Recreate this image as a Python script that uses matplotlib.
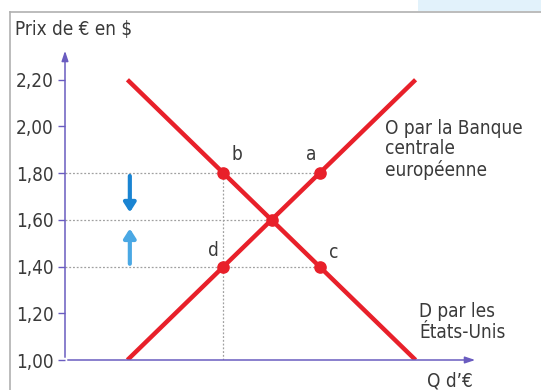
import matplotlib.pyplot as plt
from matplotlib.patches import Rectangle
from matplotlib.lines import Line2D

plt.rcParams["font.family"] = "DejaVu Sans"
plt.rcParams["font.stretch"] = "condensed"

# price ticks
prices = [1.00, 1.20, 1.40, 1.60, 1.80, 2.00, 2.20]
price_labels = ["1,00", "1,20", "1,40", "1,60", "1,80", "2,00", "2,20"]

# curves (quantity, price)
offre_q = [1.3, 7.3]
offre_p = [1.0, 2.2]
demande_q = [1.3, 7.3]
demande_p = [2.2, 1.0]

# named points
pts_name = ["b", "a", "d", "c", "e"]
pts_q = [3.3, 5.3, 3.3, 5.3, 4.3]
pts_p = [1.80, 1.80, 1.40, 1.40, 1.60]

RED = "#e8202a"
AXC = "#6a5cc0"
TXT = "#3a3a3a"
GRID = "#a0a0a0"
FS = 13.6

fig = plt.figure(figsize=(5.41, 3.90), dpi=100)
W, H = 541, 390

# frame of the page
fig.add_artist(Line2D([10 / W, 1], [1 - 12 / H, 1 - 12 / H], color="#b0b0b0", lw=1.2))
fig.add_artist(Line2D([10 / W, 10 / W], [0, 1 - 12 / H], color="#b0b0b0", lw=1.2))
fig.add_artist(Rectangle((418 / W, 1 - 11 / H), 123 / W, 11 / H, color="#e2f2fb", lw=0))

x0, x1 = 65, 478
y0, y1 = 360, 48
ax = fig.add_axes([x0 / W, 1 - y0 / H, (x1 - x0) / W, (y0 - y1) / H])
ax.set_xlim(0, 8.6)
ax.set_ylim(1.0, 2.336)
for s in ax.spines.values():
    s.set_visible(False)
ax.set_xticks([])
ax.set_yticks(prices)
ax.set_yticklabels(price_labels, fontsize=FS, color=TXT)
ax.tick_params(axis="y", length=5, width=1, color=AXC, pad=3)

# axes with arrows
ax.annotate("", xy=(0, 2.336), xytext=(0, 1.0),
            arrowprops=dict(arrowstyle="-|>,head_length=0.6,head_width=0.2", color=AXC, lw=1.1),
            annotation_clip=False)
ax.annotate("", xy=(8.6, 1.0), xytext=(0, 1.0),
            arrowprops=dict(arrowstyle="-|>,head_length=0.6,head_width=0.2", color=AXC, lw=1.1),
            annotation_clip=False)

# guide lines
dots = (0, (1.5, 1.5))
ax.plot([0, pts_q[1]], [1.80, 1.80], ls=dots, color=GRID, lw=0.9)
ax.plot([0, pts_q[4]], [1.60, 1.60], ls=dots, color=GRID, lw=0.9)
ax.plot([0, pts_q[3]], [1.40, 1.40], ls=dots, color=GRID, lw=0.9)
ax.plot([pts_q[0], pts_q[0]], [1.0, 1.80], ls=dots, color=GRID, lw=0.9)

# curves
ax.plot(offre_q, offre_p, color=RED, lw=3.2, solid_capstyle="butt")
ax.plot(demande_q, demande_p, color=RED, lw=3.2, solid_capstyle="butt")
ax.scatter(pts_q, pts_p, s=65, color=RED, zorder=5)

# point labels
ax.text(pts_q[0] + 0.27, 1.84, "b", fontsize=FS, color=TXT, ha="center", va="bottom")
ax.text(pts_q[1] - 0.17, 1.84, "a", fontsize=FS, color=TXT, ha="center", va="bottom")
ax.text(pts_q[2] - 0.22, 1.43, "d", fontsize=FS, color=TXT, ha="center", va="bottom")
ax.text(pts_q[3] + 0.29, 1.42, "c", fontsize=FS, color=TXT, ha="center", va="bottom")

# price movement arrows
ax.annotate("", xy=(1.35, 1.62), xytext=(1.35, 1.80),
            arrowprops=dict(arrowstyle="-|>,head_length=0.55,head_width=0.35", color="#1a84d2", lw=3))
ax.annotate("", xy=(1.35, 1.575), xytext=(1.35, 1.40),
            arrowprops=dict(arrowstyle="-|>,head_length=0.55,head_width=0.35", color="#4aa8e4", lw=3))

# curve labels
fig.text(385 / W, 1 - 119 / H, "O par la Banque\ncentrale\neuropéenne", fontsize=FS, color=TXT,
         ha="left", va="top", linespacing=1.1)
fig.text(419 / W, 1 - 302 / H, "D par les\nÉtats-Unis", fontsize=FS, color=TXT,
         ha="left", va="top", linespacing=1.1)

fig.text(427 / W, 1 - 381 / H, "Q d’€", fontsize=FS, color=TXT, ha="left", va="center")
fig.text(15 / W, 1 - 30 / H, "Prix de € en $", fontsize=FS, color=TXT, ha="left", va="center")

fig.savefig("out.png", dpi=100)
